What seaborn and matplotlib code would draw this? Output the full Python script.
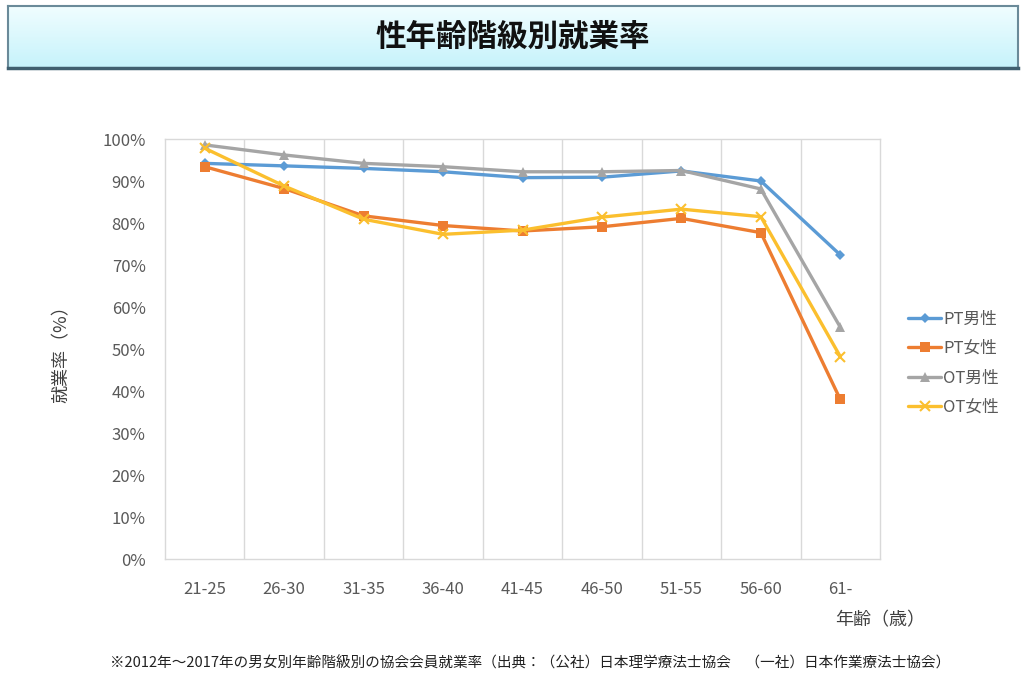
import numpy as np
import pandas as pd
import matplotlib
matplotlib.use("Agg")
import matplotlib.pyplot as plt
import seaborn as sns
from matplotlib.ticker import PercentFormatter, FixedLocator

# Data
age_groups = ["21-25", "26-30", "31-35", "36-40", "41-45", "46-50", "51-55", "56-60", "61-"]
pt_male = [94.2, 93.6, 93.0, 92.2, 90.8, 90.9, 92.4, 90.0, 72.4]
pt_female = [93.4, 88.2, 81.7, 79.4, 78.1, 79.1, 81.1, 77.7, 38.0]
ot_male = [98.6, 96.2, 94.2, 93.4, 92.2, 92.2, 92.5, 88.1, 55.2]
ot_female = [97.8, 88.8, 80.9, 77.3, 78.3, 81.4, 83.3, 81.5, 48.2]
series_names = ["PT男性", "PT女性", "OT男性", "OT女性"]

sns.set_theme(style="white")
plt.rcParams['font.family'] = ['Noto Sans CJK JP', 'DejaVu Sans']

df = pd.DataFrame({"age": age_groups * 4,
                   "rate": pt_male + pt_female + ot_male + ot_female,
                   "series": np.repeat(series_names, len(age_groups))})

colors = {"PT男性": "#5b9bd5", "PT女性": "#ed7d31", "OT男性": "#a5a5a5", "OT女性": "#fbbf2e"}
markers = {"PT男性": "D", "PT女性": "s", "OT男性": "^", "OT女性": "x"}
msizes = {"PT男性": 5, "PT女性": 7, "OT男性": 7, "OT女性": 6.5}

fig = plt.figure(figsize=(10.24, 6.83), dpi=100)
ax = fig.add_axes([165/1024, 1-559/683, 715/1024, 420/683])

for name in series_names:
    sub = df[df["series"] == name]
    mew = 1.5 if markers[name] == "x" else 0
    sns.lineplot(data=sub, x="age", y="rate", ax=ax, color=colors[name],
                 marker=markers[name], markersize=msizes[name], linewidth=2.4,
                 markeredgewidth=mew, markeredgecolor=colors[name],
                 label=name, sort=False)

ax.set_xlim(-0.5, len(age_groups) - 0.5)
ax.set_ylim(0, 100)
ax.yaxis.set_major_locator(FixedLocator(np.arange(0, 101, 10)))
ax.yaxis.set_major_formatter(PercentFormatter(decimals=0))
ax.xaxis.set_minor_locator(FixedLocator(np.arange(0.5, len(age_groups) - 1, 1)))
ax.grid(False)
ax.grid(which="minor", axis="x", color="#d9d9d9", linewidth=1)
for s in ax.spines.values():
    s.set_color("#d9d9d9")
    s.set_linewidth(1)
ax.tick_params(which="both", length=0)
ax.tick_params(axis="x", pad=16, labelsize=12, labelcolor="#595959")
ax.tick_params(axis="y", pad=14, labelsize=12, labelcolor="#595959")
ax.set_xlabel("")
ax.set_ylabel("")
ax.get_legend().remove()

handles, labels = ax.get_legend_handles_labels()
fig.legend(handles, labels, loc="center left", bbox_to_anchor=(0.872, 0.468),
           frameon=False, fontsize=12, labelcolor="#595959", handlelength=2.0,
           handletextpad=0.1, labelspacing=0.75)

fig.text(62/1024, 1-350/683, "就業率（%）", rotation=90, ha="center", va="center",
         fontsize=13, color="#404040")
fig.text(880/1024, 1-620/683, "年齢（歳）", ha="center", va="center",
         fontsize=13, color="#404040")
fig.text(530/1024, 1-663/683,
         "※2012年～2017年の男女別年齢階級別の協会会員就業率（出典：（公社）日本理学療法士協会　（一社）日本作業療法士協会）",
         ha="center", va="center", fontsize=10.5, color="#222222")

# title banner
tax = fig.add_axes([8/1024, 1-68/683, 1010/1024, 62/683])
grad = np.linspace(0, 1, 100).reshape(-1, 1)
tax.imshow(grad, aspect="auto", cmap=matplotlib.colors.LinearSegmentedColormap.from_list(
    "banner", ["#c6f3fb", "#f0fdff"]), extent=[0, 1, 0, 1], origin="lower")
tax.set_xticks([])
tax.set_yticks([])
for s in tax.spines.values():
    s.set_color("#6a8a99")
    s.set_linewidth(1.5)
tax.spines["bottom"].set_linewidth(2.5)
tax.spines["bottom"].set_color("#3f5f6f")
tax.text(0.5, 0.5, "性年齢階級別就業率", ha="center", va="center", fontsize=22,
         fontweight="bold", color="#111111", transform=tax.transAxes)

fig.savefig("out.png", dpi=100)
